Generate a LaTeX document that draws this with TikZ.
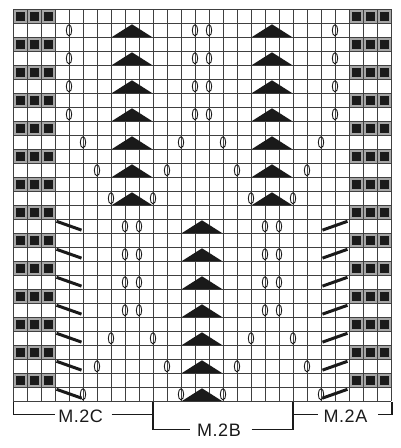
\documentclass[tikz,border=0pt]{standalone}
\usepackage{fontspec}
\setmainfont{Liberation Sans}
\definecolor{gridgray}{HTML}{404040}
\definecolor{ringgray}{HTML}{A6A6A6}
\definecolor{blk}{HTML}{1A1A1A}
\begin{document}
\begin{tikzpicture}[x=1pt,y=-1pt,
  gridline/.style={draw=gridgray, line width=1pt},
  ovalsym/.style={draw=blk, line width=0.9pt},
  slashsym/.style={draw=blk, line width=3pt},
  bracket/.style={draw=blk, line width=1.6pt},
  lbl/.style={font=\fontsize{18}{18}\selectfont\addfontfeature{LetterSpace=3}, text=blk, inner sep=0pt}]
\useasboundingbox (0,0) rectangle (400,448);
\fill[white] (0,0) rectangle (400,448);
% black squares
\foreach \r in {1,3,...,27} {
  \foreach \c in {1,2,3,25,26,27} {
    \fill[ringgray] ({13+(\c-1)*14},{9.3+(\r-1)*14}) rectangle +(14,14);
    \fill[blk] ({13+(\c-1)*14+2.5},{9.3+(\r-1)*14+2.5}) rectangle +(9,9);
  }
}
% grid
\foreach \i in {0,...,27} \draw[gridline] ({13+\i*14},9.3) -- ({13+\i*14},401.3);
\foreach \j in {0,...,28} \draw[gridline] (13,{9.3+\j*14}) -- (391,{9.3+\j*14});
% triangles
\def\knittri#1#2{\fill[blk] ({13+(#1-1)*14+1},{9.3+#2*14-0.3}) -- ({13+(#1+2)*14-1},{9.3+#2*14-0.3}) -- ({13+(#1-1)*14+21},{9.3+(#2-1)*14+1}) -- cycle;}
\foreach \r in {2,4,...,14} {\knittri{8}{\r}\knittri{18}{\r}}
\foreach \r in {16,18,...,28} {\knittri{13}{\r}}
% ovals (line index, row)
\def\knitoval#1#2{\draw[ovalsym] ({13+#1*14},{9.3+(#2-0.5)*14}) ellipse [x radius=2.7pt, y radius=5.6pt];}
\foreach \r in {2,4,6,8} {\foreach \l in {4,13,14,23} {\knitoval{\l}{\r}}}
\foreach \l in {5,12,15,22} {\knitoval{\l}{10}\knitoval{\l}{28}}
\foreach \l in {6,11,16,21} {\knitoval{\l}{12}\knitoval{\l}{26}}
\foreach \l in {7,10,17,20} {\knitoval{\l}{14}\knitoval{\l}{24}}
\foreach \r in {16,18,20,22} {\foreach \l in {8,9,18,19} {\knitoval{\l}{\r}}}
% slashes
\foreach \r in {16,18,...,28} {
  \draw[slashsym] (56.5,{9.3+(\r-1)*14+2}) -- (81.5,{9.3+(\r-1)*14+10.8});
  \draw[slashsym] (322.5,{9.3+(\r-1)*14+10.8}) -- (347.5,{9.3+(\r-1)*14+2});
}
% brackets
\draw[bracket] (13.3,401.7) -- (13.3,414.3) -- (55,414.3);
\draw[bracket] (111.7,414.3) -- (152.7,414.3);
\draw[bracket] (152.7,401.7) -- (152.7,429.3) -- (190,429.3);
\draw[bracket] (251.7,429.3) -- (292.7,429.3) -- (292.7,401.7);
\draw[bracket] (292.7,414.3) -- (318.3,414.3);
\draw[bracket] (378,414.3) -- (391.7,414.3) -- (391.7,401.7);
\node[lbl] (m2c) at (80.7,416.3) {M.2C};
\node[lbl] (m2b) at (219,430.3) {M.2B};
\node[lbl] (m2a) at (345.5,416.3) {M.2A};
\end{tikzpicture}
\end{document}
